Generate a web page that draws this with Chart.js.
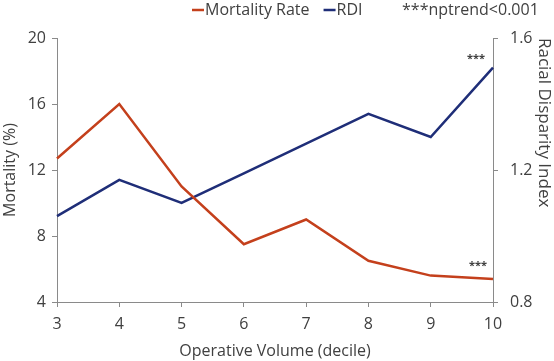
<!DOCTYPE html>
<html>
<head>
<meta charset="utf-8">
<script src="https://cdn.jsdelivr.net/npm/chart.js@4"></script>
<style>
  html, body { margin: 0; padding: 0; background: #fff; }
  #wrap { width: 554px; height: 361px; }
</style>
</head>
<body>
<div id="wrap"><canvas id="volChart" width="554" height="361"></canvas></div>
<script>
const deciles = ["3", "4", "5", "6", "7", "8", "9", "10"];
const mortality = [12.7, 16.0, 11.0, 7.5, 9.0, 6.5, 5.6, 5.4];
const rdi = [1.06, 1.17, 1.10, 1.19, 1.28, 1.37, 1.30, 1.51];
const leftTicks = [4, 8, 12, 16, 20];
const rightTicks = [0.8, 1.2, 1.6];

const RED = "#C4401C";
const BLUE = "#1F2E78";
const TEXT = "#404040";
const AXIS = "#8a8a8a";
const FONT = "'Open Sans', sans-serif";

// legend + significance stars drawn by hand (Excel-style layout)
const annotations = {
  id: "annotations",
  afterDraw(chart) {
    const c = chart.ctx;
    const x = chart.scales.x;
    const yL = chart.scales.y;
    const yR = chart.scales.y1;
    c.save();
    c.font = "16px " + FONT;
    c.textBaseline = "middle";
    c.textAlign = "left";
    const legendY = 10;
    let lx = 192;
    chart.data.datasets.forEach(ds => {
      c.strokeStyle = ds.borderColor;
      c.lineWidth = 2.5;
      c.beginPath();
      c.moveTo(lx, legendY);
      c.lineTo(lx + 12, legendY);
      c.stroke();
      c.fillStyle = TEXT;
      c.fillText(ds.label, lx + 13, legendY);
      lx += 13 + c.measureText(ds.label).width + 14;
    });
    c.fillText("***nptrend<0.001", 402, legendY);

    // stars near last points
    const last = deciles.length - 1;
    const px = x.getPixelForValue(last);
    c.font = "bold 11px " + FONT;
    c.textAlign = "center";
    c.fillText("***", px - 17, yR.getPixelForValue(rdi[last]) - 9);
    c.fillText("***", px - 15, yL.getPixelForValue(mortality[last]) - 13);
    c.restore();
  }
};

const ctx = document.getElementById("volChart").getContext("2d");

new Chart(ctx, {
  type: "line",
  data: {
    labels: deciles,
    datasets: [{
      label: "Mortality Rate",
      data: mortality,
      borderColor: RED,
      backgroundColor: RED,
      borderWidth: 2.5,
      pointRadius: 0,
      yAxisID: "y"
    }, {
      label: "RDI",
      data: rdi,
      borderColor: BLUE,
      backgroundColor: BLUE,
      borderWidth: 2.5,
      pointRadius: 0,
      yAxisID: "y1"
    }]
  },
  options: {
    responsive: false,
    animation: false,
    layout: { padding: { top: 38, left: 0, right: 0, bottom: 0 } },
    plugins: {
      legend: { display: false },
      tooltip: { enabled: false }
    },
    scales: {
      x: {
        type: "category",
        offset: false,
        afterFit(s) { s.height = 59; },
        grid: { display: true, drawOnChartArea: false, drawTicks: true, tickLength: 5, color: AXIS },
        border: { color: AXIS, width: 1 },
        ticks: { color: TEXT, font: { family: FONT, size: 16 }, padding: 8, maxRotation: 0 },
        title: { display: true, text: "Operative Volume (decile)", color: TEXT, font: { family: FONT, size: 16 }, padding: { top: 0, bottom: 0 } }
      },
      y: {
        position: "left",
        min: 4,
        max: 20,
        afterFit(s) { s.width = 57; },
        afterBuildTicks(s) { s.ticks = leftTicks.map(v => ({ value: v })); },
        grid: { display: true, drawOnChartArea: false, drawTicks: true, tickLength: 5, color: AXIS },
        border: { color: AXIS, width: 1 },
        ticks: { color: TEXT, font: { family: FONT, size: 16 }, padding: 6 },
        title: { display: true, text: "Mortality (%)", color: TEXT, font: { family: FONT, size: 16 }, padding: { top: 1, bottom: 0 } }
      },
      y1: {
        position: "right",
        min: 0.8,
        max: 1.6,
        afterFit(s) { s.width = 61; },
        afterBuildTicks(s) { s.ticks = rightTicks.map(v => ({ value: v })); },
        grid: { display: true, drawOnChartArea: false, drawTicks: true, tickLength: 5, color: AXIS },
        border: { color: AXIS, width: 1 },
        ticks: { color: TEXT, font: { family: FONT, size: 16 }, padding: 12, callback: v => v.toFixed(1) },
        title: { display: true, text: "Racial Disparity Index", align: "end", color: TEXT, font: { family: FONT, size: 17 }, padding: { top: 0, bottom: 0 } }
      }
    }
  },
  plugins: [annotations]
});
</script>
</body>
</html>
